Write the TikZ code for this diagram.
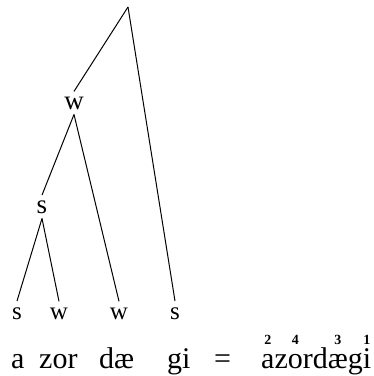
\documentclass[tikz,border=0pt]{standalone}
\usepackage{fontspec}
\setmainfont{Liberation Serif}
\usepackage{tikz}
\usetikzlibrary{positioning}

% stress number set over a letter
\newcommand{\stressmark}[2]{\setbox0\hbox{#2}\rlap{\hbox to\wd0{\hss\raisebox{24pt}{\fontsize{14}{16}\selectfont\bfseries #1}\hss}}#2}

\begin{document}
\begin{tikzpicture}[
    x=1pt, y=-1pt,
    inner/.style={inner sep=5pt, font=\fontsize{27}{30}\selectfont},
    leaf/.style={inner sep=6pt, font=\fontsize{25}{28}\selectfont},
    word/.style={inner sep=0pt, anchor=base west, font=\fontsize{30}{34}\selectfont},
    branch/.style={line width=1pt}
]
\useasboundingbox (0,0) rectangle (374,376);

% Metrical tree
\coordinate (top) at (128,7);
\node[inner, anchor=base] (w) at (74,109) {w};
\node[inner, anchor=base] (s) at (42,213) {s};

\node[leaf, anchor=base] (l1) at (17,319) {s};
\node[leaf, anchor=base] (l2) at (59,319) {w};
\node[leaf, anchor=base] (l3) at (119,319) {w};
\node[leaf, anchor=base] (l4) at (175,319) {s};

\draw[branch] (top) -- (w.north);
\draw[branch] (top) -- (l4.north);
\draw[branch] (w.south) -- (s.north);
\draw[branch] (w.south) -- (l3.north);
\draw[branch] (s.south) -- (l1.north);
\draw[branch] (s.south) -- (l2.north);

% Syllables and the stressed word
\node[word] (a) at (11,368) {a};
\node[word] (zor) at (39,368) {zor};
\node[word] (dae) at (99,368) {dæ};
\node[word] (gi) at (167,368) {gi};
\node[word] (eq) at (214,368) {=};
\node[word] (whole) at (261,368) {\stressmark{2}{a}z\stressmark{4}{o}rd\stressmark{3}{æ}g\stressmark{1}{i}};
\end{tikzpicture}
\end{document}
